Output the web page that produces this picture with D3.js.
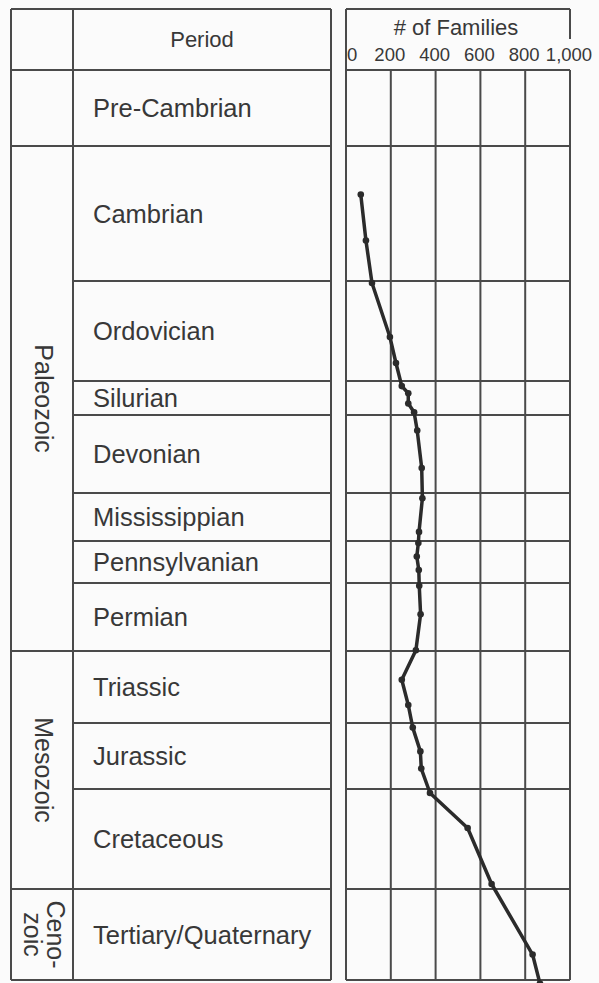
<!DOCTYPE html>
<head>
  <title>Families through time</title>
  <meta charset="utf-8">
<style>
body, html {
    margin: 0;
    padding: 0;
    background: #fbfbfb;
}
svg text {
    font-family: "Liberation Sans", Arial, sans-serif;
    fill: #383838;
}
.grid line, .rule {
    stroke: #4a4a4a;
    stroke-width: 2px;
}
.line {
  fill: none;
  stroke: #2b2b2b;
  stroke-width: 3.5px;
  stroke-linejoin: round;
}
</style>
</head>
<body>
<div id="chart"></div>
<script src="https://d3js.org/d3.v7.min.js"></script>
<script type="text/javascript">

// periods, top (oldest) to bottom, and how tall each row is drawn (relative units)
var periods = ["Pre-Cambrian", "Cambrian", "Ordovician", "Silurian", "Devonian", "Mississippian",
               "Pennsylvanian", "Permian", "Triassic", "Jurassic", "Cretaceous", "Tertiary/Quaternary"];
var rowSpan = [76, 135, 100, 34, 78, 48, 42, 68, 72, 66, 100, 91];

// eras: label lines, first and last period covered
var eraLabels = [["Paleozoic"], ["Mesozoic"], ["Ceno-", "zoic"]];
var eraFirst = ["Cambrian", "Triassic", "Tertiary/Quaternary"];
var eraLast = ["Permian", "Cretaceous", "Tertiary/Quaternary"];

// number of families: period of each point and its position inside the period (0 = top, 1 = bottom)
var pointPeriod = ["Cambrian", "Cambrian", "Ordovician", "Ordovician", "Ordovician",
                   "Silurian", "Silurian", "Silurian", "Silurian", "Devonian", "Devonian",
                   "Mississippian", "Mississippian", "Pennsylvanian", "Pennsylvanian", "Pennsylvanian",
                   "Permian", "Permian", "Permian", "Triassic", "Triassic",
                   "Jurassic", "Jurassic", "Jurassic", "Cretaceous", "Cretaceous", "Cretaceous",
                   "Tertiary/Quaternary", "Tertiary/Quaternary"];
var pointPos = [0.36, 0.70, 0.02, 0.56, 0.82, 0.15, 0.36, 0.66, 0.92, 0.20, 0.68, 0.11, 0.81,
                0.05, 0.37, 0.69, 0.04, 0.46, 0.99, 0.40, 0.75, 0.07, 0.43, 0.69, 0.04, 0.39, 0.95,
                0.72, 1.04];
var families = [66, 89, 116, 196, 223, 249, 278, 278, 304, 318, 338, 341, 326, 323, 316, 325,
                327, 333, 312, 249, 278, 298, 332, 336, 375, 543, 650, 833, 866];

var xTicks = [0, 200, 400, 600, 800, 1000];

var width = 599, height = 983;
var topY = 9, headBottom = 70, bottomY = 980;
var tableLeft = 11, eraRight = 73, tableRight = 331;
var plotLeft = 346, plotRight = 570;

var svg = d3.select("#chart")
    .append("svg")
    .attr("width", width)
    .attr("height", height);

// cumulative row boundaries
var starts = [0];
rowSpan.forEach(function(s, i) { starts.push(starts[i] + s); });
var total = starts[starts.length - 1];
var y = d3.scaleLinear().domain([0, total]).range([headBottom, bottomY]);
var x = d3.scaleLinear().domain([0, 1000]).range([plotLeft, plotRight]);

function rowTop(p) { return y(starts[periods.indexOf(p)]); }
function rowBottom(p) { return y(starts[periods.indexOf(p) + 1]); }

// ---- left table ----
var table = svg.append("g");
function rule(g, x1, y1, x2, y2) {
    g.append("line").attr("class", "rule")
        .attr("x1", x1).attr("y1", y1).attr("x2", x2).attr("y2", y2);
}
rule(table, tableLeft, topY, tableRight, topY);
rule(table, tableLeft, topY, tableLeft, bottomY);
rule(table, eraRight, topY, eraRight, bottomY);
rule(table, tableRight, topY, tableRight, bottomY);
rule(table, tableLeft, headBottom, tableRight, headBottom);

// period boundaries
starts.slice(1).forEach(function(s, i) {
    var isEraEdge = i == 0 || i == starts.length - 2 ||
        eraFirst.indexOf(periods[i + 1]) >= 0;
    rule(table, isEraEdge ? tableLeft : eraRight, y(s), tableRight, y(s));
});

table.append("text")
    .attr("x", (eraRight + tableRight) / 2)
    .attr("y", 47)
    .attr("text-anchor", "middle")
    .style("font-size", "22px")
    .text("Period");

table.selectAll(".period")
    .data(periods)
  .enter().append("text")
    .attr("class", "period")
    .attr("x", 93)
    .attr("y", function(d) { return (rowTop(d) + rowBottom(d)) / 2 + 9; })
    .style("font-size", "25.5px")
    .text(function(d) { return d; });

// era names, rotated to read downwards
eraLabels.forEach(function(lines, i) {
    var cy = (rowTop(eraFirst[i]) + rowBottom(eraLast[i])) / 2;
    var g = table.append("g")
        .attr("transform", "translate(" + ((tableLeft + eraRight) / 2 + 2) + "," + cy + ") rotate(90)");
    var n = lines.length;
    lines.forEach(function(t, j) {
        g.append("text")
            .attr("text-anchor", "middle")
            .attr("y", (j - (n - 1) / 2) * 23 + 9)
            .style("font-size", "25px")
            .text(t);
    });
});

// ---- right panel ----
var panel = svg.append("g");
rule(panel, plotLeft, topY, plotRight, topY);
rule(panel, plotLeft, topY, plotLeft, bottomY);
rule(panel, plotRight, topY, plotRight, topY + 30);
rule(panel, plotLeft, headBottom, plotRight, headBottom);

panel.append("g").attr("class", "grid")
  .selectAll("line")
    .data(xTicks.slice(1))
  .enter().append("line")
    .attr("x1", function(d) { return x(d); })
    .attr("x2", function(d) { return x(d); })
    .attr("y1", headBottom)
    .attr("y2", bottomY);

panel.append("g").attr("class", "grid")
  .selectAll("line")
    .data(starts.slice(1))
  .enter().append("line")
    .attr("x1", plotLeft)
    .attr("x2", plotRight)
    .attr("y1", function(d) { return y(d); })
    .attr("y2", function(d) { return y(d); });

panel.append("text")
    .attr("x", (plotLeft + plotRight) / 2 - 2)
    .attr("y", 35)
    .attr("text-anchor", "middle")
    .style("font-size", "22px")
    .text("# of Families");

panel.selectAll(".tick")
    .data(xTicks)
  .enter().append("text")
    .attr("class", "tick")
    .attr("x", function(d) { return d == 0 ? x(d) + 1 : x(d) - 1; })
    .attr("y", 61)
    .attr("text-anchor", function(d) { return d == 0 ? "start" : "middle"; })
    .style("font-size", "18.5px")
    .text(function(d) { return d3.format(",")(d); });

// ---- the curve ----
var pts = families.map(function(f, i) {
    var p = pointPeriod[i];
    return { x: x(f), y: rowTop(p) + pointPos[i] * (rowBottom(p) - rowTop(p)) };
});

var valueline = d3.line()
    .x(function(d) { return d.x; })
    .y(function(d) { return d.y; });

svg.append("path")
    .data([pts])
    .attr("class", "line")
    .attr("d", valueline);

svg.selectAll("dot")
    .data(pts)
  .enter().append("circle")
    .attr("r", 3.3)
    .attr("cx", function(d) { return d.x; })
    .attr("cy", function(d) { return d.y; })
    .style("fill", "#2b2b2b");

</script>
</body>
